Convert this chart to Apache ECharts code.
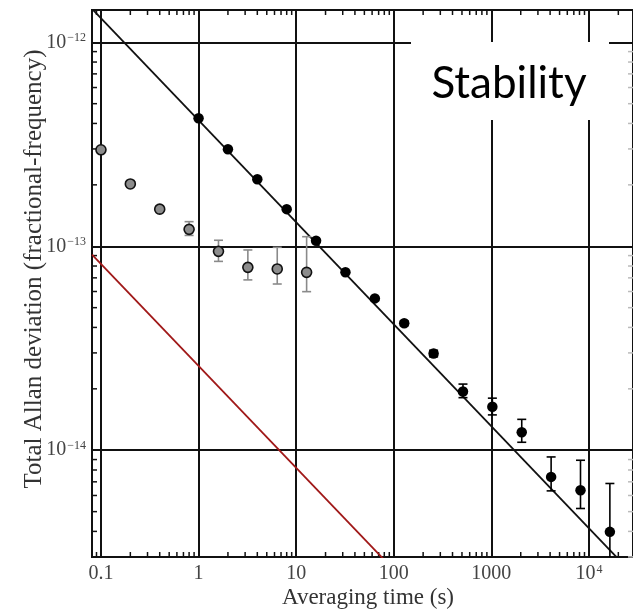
<!DOCTYPE html>
<html>
<head>
<meta charset="utf-8">
<script src="https://cdn.jsdelivr.net/npm/echarts@6/dist/echarts.min.js"></script>
<style>
html,body{margin:0;padding:0;background:#fff;overflow:hidden;}
#chart{width:636px;height:612px;}
</style>
</head>
<body>
<div id="chart"></div>
<script>
// ---- data ----
const grayX  = [0.1, 0.2, 0.4, 0.8, 1.6, 3.2, 6.4, 12.8];
const grayY  = [2.97e-13, 2.02e-13, 1.52e-13, 1.21e-13, 9.44e-14, 7.88e-14, 7.74e-14, 7.45e-14];
const grayLo = [null, null, 1.48e-13, 1.13e-13, 8.43e-14, 6.84e-14, 6.53e-14, 5.99e-14];
const grayHi = [null, null, 1.57e-13, 1.32e-13, 1.07e-13, 9.59e-14, 9.88e-14, 1.114e-13];

const blackX  = [1, 2, 4, 8, 16, 32, 64, 128, 256, 512, 1024, 2048, 4096, 8192, 16384];
const blackY  = [4.24e-13, 2.99e-13, 2.13e-13, 1.52e-13, 1.065e-13, 7.45e-14, 5.55e-14, 4.19e-14, 2.98e-14, 1.94e-14, 1.635e-14, 1.225e-14, 7.4e-15, 6.37e-15, 3.98e-15];
const blackLo = [null, null, null, null, null, null, null, 4.08e-14, 2.87e-14, 1.81e-14, 1.49e-14, 1.094e-14, 6.32e-15, 5.18e-15, 2.5e-15];
const blackHi = [null, null, null, null, null, null, null, 4.30e-14, 3.09e-14, 2.11e-14, 1.80e-14, 1.417e-14, 9.27e-15, 8.93e-15, 6.87e-15];

// reference lines (tau^-1/2), endpoints
const fitBlackX = [0.081, 20000];
const fitBlackY = [1.458e-12, 2.93e-15];
const fitRedX   = [0.081, 80];
const fitRedY   = [9.1e-14, 2.9e-15];

const xTickLabels = {'-1': '0.1', '0': '1', '1': '10', '2': '100', '3': '1000', '4': '10{s|4}'};
const yTickLabels = {'-12': '10{s|−12}', '-13': '10{s|−13}', '-14': '10{s|−14}'};

const xMin = 0.08095, xMax = 28270;
const yMin = 2.996e-15, yMax = 1.4396e-12;

// minor (log) tick positions
const xMinor = [], yMinor = [];
for (let n = -2; n <= 4; n++) for (let k = 2; k <= 9; k++) {
  const v = k * Math.pow(10, n);
  if (v > xMin && v < xMax) xMinor.push([v, 1e-13]);
}
for (let n = -15; n <= -12; n++) for (let k = 2; k <= 9; k++) {
  const v = k * Math.pow(10, n);
  if (v > yMin && v < yMax) yMinor.push([1, v]);
}

const zip2 = (a, b) => a.map((v, i) => [v, b[i]]);
const errData = (xs, lo, hi) => xs.map((v, i) => lo[i] == null ? null : [v, lo[i], hi[i]]).filter(d => d);

function errRender(color) {
  return function (params, api) {
    const cs = params.coordSys;
    const x = api.value(0), lo = api.value(1), hi = api.value(2);
    const p1 = api.coord([x, hi]);
    const p2 = api.coord([x, lo]);
    const yb = cs.y + cs.height;
    let clipped = false;
    if (p2[1] > yb) { p2[1] = yb; clipped = true; }
    const w = 4.5;
    const st = { stroke: color, lineWidth: 1.6 };
    const ch = [
      { type: 'line', shape: { x1: p1[0], y1: p1[1], x2: p2[0], y2: p2[1] }, style: st },
      { type: 'line', shape: { x1: p1[0] - w, y1: p1[1], x2: p1[0] + w, y2: p1[1] }, style: st }
    ];
    if (!clipped) ch.push({ type: 'line', shape: { x1: p2[0] - w, y1: p2[1], x2: p2[0] + w, y2: p2[1] }, style: st });
    return { type: 'group', children: ch };
  };
}

function xMinorRender(params, api) {
  const cs = params.coordSys;
  const p = api.coord([api.value(0), api.value(1)]);
  const st = { stroke: '#111', lineWidth: 1.5 };
  const yb = cs.y + cs.height, yt = cs.y;
  return { type: 'group', children: [
    { type: 'line', shape: { x1: p[0], y1: yb, x2: p[0], y2: yb - 5 }, style: st },
    { type: 'line', shape: { x1: p[0], y1: yt, x2: p[0], y2: yt + 5 }, style: st }
  ]};
}
function yMinorRender(params, api) {
  const cs = params.coordSys;
  const p = api.coord([api.value(0), api.value(1)]);
  const st = { stroke: '#111', lineWidth: 1.5 };
  const xl = cs.x, xr = cs.x + cs.width;
  return { type: 'group', children: [
    { type: 'line', shape: { x1: xl, y1: p[1], x2: xl + 5, y2: p[1] }, style: st },
    { type: 'line', shape: { x1: xr, y1: p[1], x2: xr - 5, y2: p[1] }, style: { stroke: '#bbb', lineWidth: 1.5 } }
  ]};
}

const serif = '"Liberation Serif", "DejaVu Serif", serif';
const chart = echarts.init(document.getElementById('chart'), null, { renderer: 'canvas' });

const near = v => Math.abs(Math.log10(v) - Math.round(Math.log10(v))) < 1e-6;

chart.setOption({
  animation: false,
  backgroundColor: '#fff',
  grid: { left: 92, top: 10, right: 0, bottom: 55, show: true, borderColor: '#111', borderWidth: 2, backgroundColor: 'transparent' },
  xAxis: {
    type: 'log', logBase: 10, min: xMin, max: xMax,
    axisLine: { show: true, lineStyle: { color: '#111', width: 2 } },
    axisTick: { show: false },
    splitLine: { show: true, lineStyle: { color: '#111', width: 2 } },
    axisLabel: {
      margin: 7, color: '#444', fontFamily: serif, fontSize: 20,
      formatter: v => near(v) ? (xTickLabels[String(Math.round(Math.log10(v)))] || '') : '',
      rich: { s: { fontSize: 12, fontFamily: serif, color: '#444', verticalAlign: 'top', padding: [0, 0, 8, 1] } }
    }
  },
  yAxis: {
    type: 'log', logBase: 10, min: yMin, max: yMax,
    axisLine: { show: true, lineStyle: { color: '#111', width: 2 } },
    axisTick: { show: false },
    splitLine: { show: true, lineStyle: { color: '#111', width: 2 } },
    axisLabel: {
      margin: 6, color: '#444', fontFamily: serif, fontSize: 20,
      formatter: v => near(v) ? (yTickLabels[String(Math.round(Math.log10(v)))] || '') : '',
      rich: { s: { fontSize: 12, fontFamily: serif, color: '#444', verticalAlign: 'top', padding: [0, 0, 8, 1] } }
    }
  },
  series: [
    { type: 'custom', renderItem: xMinorRender, data: xMinor, silent: true, z: 3 },
    { type: 'custom', renderItem: yMinorRender, data: yMinor, silent: true, z: 3 },
    { type: 'line', data: zip2(fitRedX, fitRedY), showSymbol: false, clip: true,
      lineStyle: { color: '#a01818', width: 1.8 }, z: 4 },
    { type: 'line', data: zip2(fitBlackX, fitBlackY), showSymbol: false, clip: true,
      lineStyle: { color: '#111', width: 1.8 }, z: 4 },
    { type: 'custom', renderItem: errRender('#8a8a8a'), data: errData(grayX, grayLo, grayHi), z: 5 },
    { type: 'custom', renderItem: errRender('#000'), data: errData(blackX, blackLo, blackHi), z: 5 },
    { type: 'scatter', data: zip2(grayX, grayY), symbol: 'circle', symbolSize: 10,
      itemStyle: { color: '#8c8c8c', borderColor: '#111', borderWidth: 1.6, opacity: 1 }, z: 6 },
    { type: 'scatter', data: zip2(blackX, blackY), symbol: 'circle', symbolSize: 10.5,
      itemStyle: { color: '#000', borderColor: '#000', borderWidth: 0, opacity: 1 }, z: 6 }
  ],
  graphic: [
    { type: 'rect', left: 411, top: 42, shape: { width: 198, height: 78 }, style: { fill: '#fff' }, z: 100 },
    { type: 'text', x: 509, y: 84, z: 101,
      style: { text: 'Stability', font: '44px Lato, "Open Sans", sans-serif', fill: '#000', align: 'center', verticalAlign: 'middle' } },
    { type: 'text', x: 368, y: 598, z: 101,
      style: { text: 'Averaging time (s)', font: '23px ' + serif, fill: '#333', align: 'center', verticalAlign: 'middle' } },
    { type: 'text', x: 34, y: 269, rotation: Math.PI / 2, z: 101,
      style: { text: 'Total Allan deviation (fractional-frequency)', font: '25px ' + serif, fill: '#333', align: 'center', verticalAlign: 'middle' } }
  ]
});
</script>
</body>
</html>
